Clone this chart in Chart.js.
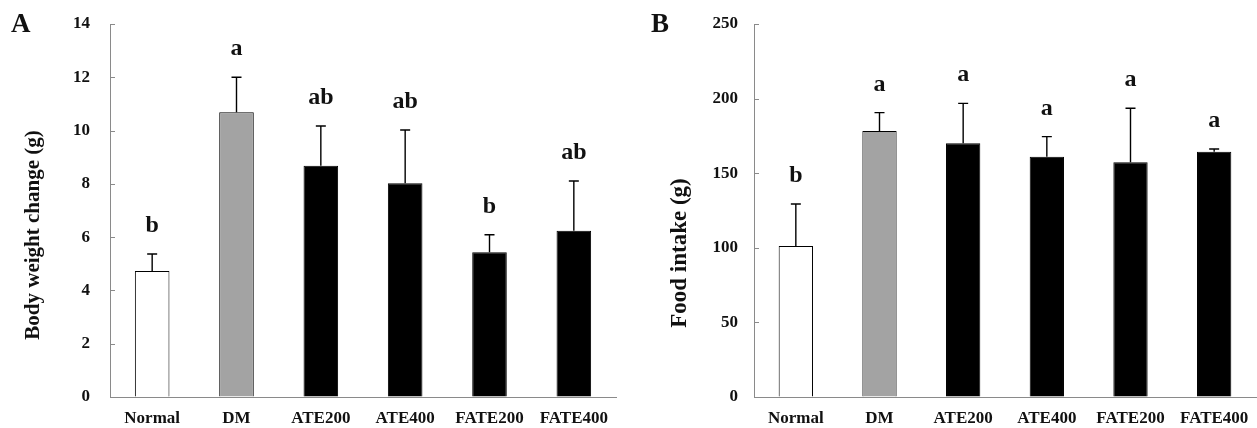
<!DOCTYPE html>
<html>
<head>
<meta charset="utf-8">
<script src="https://cdn.jsdelivr.net/npm/chart.js@4/dist/chart.umd.min.js"></script>
<style>
  html, body { margin: 0; padding: 0; background: #fff; }
  #wrap { position: relative; width: 1257px; height: 428px; overflow: hidden; }
  canvas { position: absolute; top: 0; }
</style>
</head>
<body>
<div id="wrap">
  <canvas id="chartA" width="628" height="428" style="left:0px"></canvas>
  <canvas id="chartB" width="629" height="428" style="left:628px"></canvas>
</div>
<script>
// ---- data ----
const categories = ['Normal', 'DM', 'ATE200', 'ATE400', 'FATE200', 'FATE400'];

const bodyWeightMean = [4.73, 10.69, 8.68, 8.02, 5.43, 6.24];
const bodyWeightSD   = [0.64, 1.31, 1.49, 2.00, 0.66, 1.87];
const bodyWeightLetters = ['b', 'a', 'ab', 'ab', 'b', 'ab'];
const bodyWeightTicks = [0, 2, 4, 6, 8, 10, 12, 14];

const foodIntakeMean = [101.2, 178.3, 170.0, 161.0, 157.3, 164.4];
const foodIntakeSD   = [28.2, 12.3, 26.8, 13.5, 36.2, 1.8];
const foodIntakeLetters = ['b', 'a', 'a', 'a', 'a', 'a'];
const foodIntakeTicks = [0, 50, 100, 150, 200, 250];

// ---- styles ----
const barFill = ['#ffffff', '#a3a3a3', '#000000', '#000000', '#000000', '#000000'];
const SERIF = '"Liberation Serif", "Times New Roman", serif';
const AXIS_GREY = '#8a8a8a';
const TEXT = '#111111';

function makeChart(id, cfg) {
  const decor = {
    id: 'decor_' + id,
    afterDatasetsDraw(chart) {
      const ctx = chart.ctx;
      const x = chart.scales.x, y = chart.scales.y;
      const area = chart.chartArea;
      ctx.save();
      // inward tick marks on y axis
      ctx.strokeStyle = AXIS_GREY;
      ctx.lineWidth = 1;
      cfg.ticks.forEach(v => {
        const py = Math.round(y.getPixelForValue(v)) + 0.5;
        ctx.beginPath();
        ctx.moveTo(area.left, py);
        ctx.lineTo(area.left + 5, py);
        ctx.stroke();
      });
      // error bars and letters
      cfg.means.forEach((m, i) => {
        const px = x.getPixelForValue(i);
        const pTop = y.getPixelForValue(m);
        const pErr = y.getPixelForValue(m + cfg.sds[i]);
        ctx.strokeStyle = '#000';
        ctx.lineWidth = 1.4;
        ctx.beginPath();
        ctx.moveTo(px, pTop);
        ctx.lineTo(px, pErr);
        ctx.moveTo(px - 5, pErr);
        ctx.lineTo(px + 5, pErr);
        ctx.stroke();
        ctx.fillStyle = TEXT;
        ctx.font = 'bold 24px ' + SERIF;
        ctx.textAlign = 'center';
        ctx.textBaseline = 'alphabetic';
        ctx.fillText(cfg.letters[i], px, pErr - 22);
      });
      // y axis title
      ctx.save();
      ctx.translate(cfg.titleX, cfg.titleY);
      ctx.rotate(-Math.PI / 2);
      ctx.font = 'bold ' + cfg.titleSize + 'px ' + SERIF;
      ctx.textAlign = 'center';
      ctx.textBaseline = 'middle';
      ctx.fillStyle = TEXT;
      ctx.fillText(cfg.title, 0, 0);
      ctx.restore();
      // panel label
      ctx.font = 'bold 27px ' + SERIF;
      ctx.textAlign = 'left';
      ctx.textBaseline = 'alphabetic';
      ctx.fillStyle = TEXT;
      ctx.fillText(cfg.panel, cfg.panelX, 32);
      ctx.restore();
    }
  };

  return new Chart(document.getElementById(id), {
    type: 'bar',
    data: {
      labels: categories,
      datasets: [{
        data: cfg.means,
        backgroundColor: barFill,
        borderColor: '#000000',
        borderWidth: 1,
        barPercentage: 0.41,
        categoryPercentage: 1.0
      }]
    },
    options: {
      responsive: false,
      animation: false,
      devicePixelRatio: 1,
      layout: { padding: { left: 0, right: cfg.padRight, top: 24, bottom: 0 } },
      plugins: { legend: { display: false }, tooltip: { enabled: false } },
      scales: {
        x: {
          offset: true,
          grid: { display: false, drawTicks: false },
          border: { display: true, color: AXIS_GREY, width: 1 },
          ticks: {
            color: TEXT,
            font: { family: SERIF, size: 17, weight: 'bold' },
            padding: 11,
            maxRotation: 0,
            autoSkip: false
          },
          afterFit(scale) {
            scale.height = 31;
            scale.paddingLeft = 0;
            scale.paddingRight = 0;
          }
        },
        y: {
          min: 0,
          max: cfg.max,
          afterBuildTicks(scale) { scale.ticks = cfg.ticks.map(v => ({ value: v })); },
          grid: { display: true, drawOnChartArea: false, drawTicks: false },
          border: { display: true, color: AXIS_GREY, width: 1 },
          ticks: {
            color: TEXT,
            font: { family: SERIF, size: 17, weight: 'bold' },
            padding: cfg.tickPad
          },
          afterFit(scale) {
            scale.width = cfg.axisWidth;
            scale.paddingTop = 0;
            scale.paddingBottom = 0;
          }
        }
      }
    },
    plugins: [decor]
  });
}

makeChart('chartA', {
  means: bodyWeightMean, sds: bodyWeightSD, letters: bodyWeightLetters,
  ticks: bodyWeightTicks, max: 14,
  title: 'Body weight change (g)', titleX: 34, titleY: 235, titleSize: 21,
  panel: 'A', panelX: 11,
  axisWidth: 110, padRight: 12, tickPad: 20
});

makeChart('chartB', {
  means: foodIntakeMean, sds: foodIntakeSD, letters: foodIntakeLetters,
  ticks: foodIntakeTicks, max: 250,
  title: 'Food intake (g)', titleX: 52, titleY: 253, titleSize: 23,
  panel: 'B', panelX: 23,
  axisWidth: 126, padRight: 1, tickPad: 16
});
</script>
</body>
</html>
